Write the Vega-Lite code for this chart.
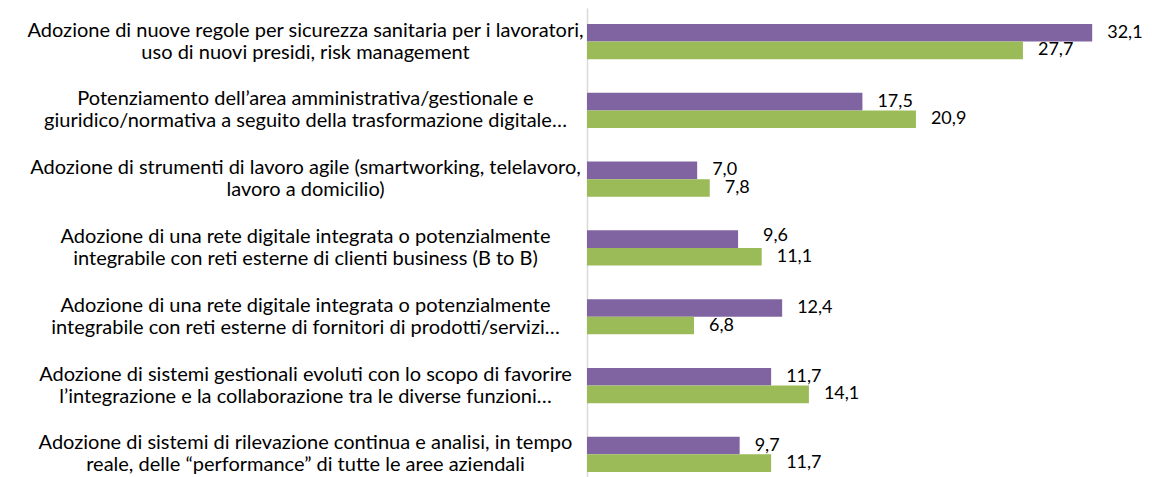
{
  "$schema": "https://vega.github.io/schema/vega-lite/v6.json",
  "width": 565,
  "height": 469,
  "autosize": {"type": "none"},
  "padding": {"left": 587, "top": 8, "right": 0, "bottom": 0},
  "background": "white",
  "config": {"view": {"stroke": null}, "font": "Lato"},
  "data": {
    "values": [
      {"cat": "Adozione di nuove regole per sicurezza sanitaria per i lavoratori,|uso di nuovi presidi, risk management", "series": "Serie 1", "value": 32.1},
      {"cat": "Adozione di nuove regole per sicurezza sanitaria per i lavoratori,|uso di nuovi presidi, risk management", "series": "Serie 2", "value": 27.7},
      {"cat": "Potenziamento dell’area amministrativa/gestionale e|giuridico/normativa a seguito della trasformazione digitale…", "series": "Serie 1", "value": 17.5},
      {"cat": "Potenziamento dell’area amministrativa/gestionale e|giuridico/normativa a seguito della trasformazione digitale…", "series": "Serie 2", "value": 20.9},
      {"cat": "Adozione di strumenti di lavoro agile (smartworking, telelavoro,|lavoro a domicilio)", "series": "Serie 1", "value": 7.0},
      {"cat": "Adozione di strumenti di lavoro agile (smartworking, telelavoro,|lavoro a domicilio)", "series": "Serie 2", "value": 7.8},
      {"cat": "Adozione di una rete digitale integrata o potenzialmente|integrabile con reti esterne di clienti business (B to B)", "series": "Serie 1", "value": 9.6},
      {"cat": "Adozione di una rete digitale integrata o potenzialmente|integrabile con reti esterne di clienti business (B to B)", "series": "Serie 2", "value": 11.1},
      {"cat": "Adozione di una rete digitale integrata o potenzialmente|integrabile con reti esterne di fornitori di prodotti/servizi…", "series": "Serie 1", "value": 12.4},
      {"cat": "Adozione di una rete digitale integrata o potenzialmente|integrabile con reti esterne di fornitori di prodotti/servizi…", "series": "Serie 2", "value": 6.8},
      {"cat": "Adozione di sistemi gestionali evoluti con lo scopo di favorire|l’integrazione e la collaborazione tra le diverse funzioni…", "series": "Serie 1", "value": 11.7},
      {"cat": "Adozione di sistemi gestionali evoluti con lo scopo di favorire|l’integrazione e la collaborazione tra le diverse funzioni…", "series": "Serie 2", "value": 14.1},
      {"cat": "Adozione di sistemi di rilevazione continua e analisi, in tempo|reale, delle “performance” di tutte le aree aziendali", "series": "Serie 1", "value": 9.7},
      {"cat": "Adozione di sistemi di rilevazione continua e analisi, in tempo|reale, delle “performance” di tutte le aree aziendali", "series": "Serie 2", "value": 11.7}
    ]
  },
  "transform": [
    {"calculate": "replace(format(datum.value, '.1f'), '.', ',')", "as": "label"}
  ],
  "encoding": {
    "y": {
      "field": "cat",
      "type": "nominal",
      "sort": null,
      "scale": {"paddingInner": 0.488, "paddingOuter": 0.153, "align": 0.76},
      "axis": {
        "title": null,
        "domainColor": "#d9d9d9",
        "domainWidth": 1.5,
        "ticks": false,
        "labelAlign": "center",
        "labelBaseline": "middle",
        "labelPadding": 282,
        "labelOffset": -11,
        "labelFont": "Lato",
        "labelFontSize": 20,
        "labelColor": "black",
        "labelLimit": 0,
        "labelLineHeight": 22,
        "labelOverlap": false,
        "labelExpr": "split(datum.label, '|')"
      }
    },
    "yOffset": {"field": "series", "type": "nominal", "sort": ["Serie 1", "Serie 2"]},
    "x": {"field": "value", "type": "quantitative", "scale": {"domain": [0, 35.9]}, "axis": null}
  },
  "layer": [
    {
      "mark": {"type": "bar"},
      "encoding": {
        "color": {
          "field": "series",
          "type": "nominal",
          "scale": {"domain": ["Serie 1", "Serie 2"], "range": ["#8064A2", "#9BBB59"]},
          "legend": null
        }
      }
    },
    {
      "transform": [{"filter": "!(datum.value == 9.6 && datum.series == 'Serie 1')"}],
      "mark": {"type": "text", "align": "left", "baseline": "middle", "dx": 15, "font": "Lato", "fontSize": 18, "color": "black"},
      "encoding": {"text": {"field": "label", "type": "nominal"}}
    },
    {
      "transform": [{"filter": "datum.value == 9.6 && datum.series == 'Serie 1'"}],
      "mark": {"type": "text", "align": "left", "baseline": "middle", "dx": 25, "dy": -3, "font": "Lato", "fontSize": 18, "color": "black"},
      "encoding": {"text": {"field": "label", "type": "nominal"}}
    }
  ]
}
